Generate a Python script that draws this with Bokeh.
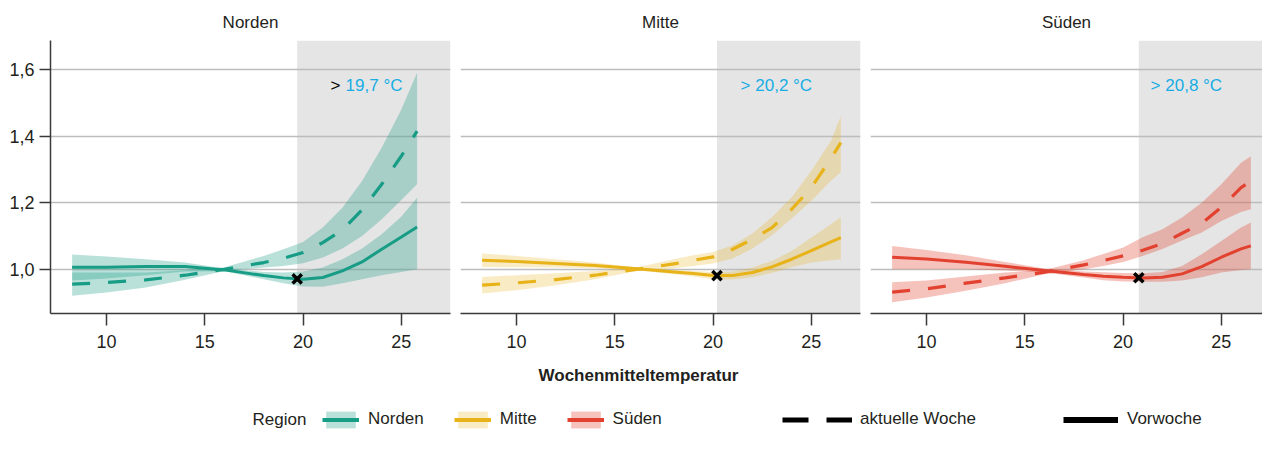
import numpy as np
from bokeh.plotting import figure
from bokeh.models import Range1d, BoxAnnotation, Label, Legend, LegendItem, FixedTicker
from bokeh.layouts import row, column
from bokeh.embed import file_html
from bokeh.resources import INLINE
from bokeh.core.properties import value

FONT = "Liberation Sans"
TXT = "#231f20"

# ---------------- data ----------------
regions = ["Norden", "Mitte", "Süden"]
thresholds = [19.7, 20.2, 20.8]
y_ticks = [1.0, 1.2, 1.4, 1.6]
y_tick_labels = ["1,0", "1,2", "1,4", "1,6"]
x_ticks = [10, 15, 20, 25]
x_tick_labels = ["10", "15", "20", "25"]
x_title = "Wochenmitteltemperatur"
legend_title = "Region"
label_current = "aktuelle Woche"
label_previous = "Vorwoche"

x_nord = [8.25, 10, 12, 14, 16, 18, 19, 20, 21, 22, 23, 24, 25, 25.8]
nord_prev = [1.006, 1.006, 1.008, 1.008, 0.998, 0.981, 0.974, 0.970, 0.975, 0.995, 1.022, 1.060, 1.097, 1.127]
nord_prev_lo = [0.966, 0.972, 0.982, 0.993, 0.994, 0.970, 0.958, 0.948, 0.947, 0.958, 0.970, 0.982, 0.992, 1.000]
nord_prev_hi = [1.044, 1.038, 1.030, 1.020, 1.002, 0.992, 0.990, 0.993, 1.005, 1.030, 1.062, 1.105, 1.158, 1.215]
nord_cur = [0.955, 0.960, 0.968, 0.982, 1.000, 1.020, 1.033, 1.050, 1.080, 1.118, 1.178, 1.255, 1.340, 1.415]
nord_cur_lo = [0.920, 0.930, 0.945, 0.968, 0.995, 1.005, 1.010, 1.018, 1.035, 1.062, 1.100, 1.150, 1.208, 1.255]
nord_cur_hi = [0.990, 0.990, 0.990, 0.997, 1.006, 1.040, 1.060, 1.082, 1.125, 1.185, 1.265, 1.365, 1.480, 1.590]

x_mitte = [8.25, 10, 12, 14, 16, 18, 19, 20, 21, 22, 23, 24, 25, 26, 26.5]
mitte_prev = [1.027, 1.023, 1.017, 1.011, 1.002, 0.992, 0.987, 0.981, 0.981, 0.990, 1.007, 1.030, 1.056, 1.082, 1.095]
mitte_prev_lo = [1.007, 1.006, 1.005, 1.003, 0.998, 0.985, 0.978, 0.970, 0.969, 0.976, 0.989, 1.006, 1.020, 1.027, 1.030]
mitte_prev_hi = [1.047, 1.040, 1.030, 1.020, 1.006, 0.998, 0.995, 0.992, 0.993, 1.005, 1.025, 1.055, 1.095, 1.135, 1.157]
mitte_cur = [0.952, 0.959, 0.969, 0.982, 0.999, 1.016, 1.027, 1.037, 1.060, 1.090, 1.125, 1.180, 1.245, 1.333, 1.380]
mitte_cur_lo = [0.927, 0.937, 0.952, 0.970, 0.994, 1.003, 1.010, 1.017, 1.032, 1.062, 1.102, 1.152, 1.206, 1.266, 1.291]
mitte_cur_hi = [0.977, 0.982, 0.988, 0.995, 1.004, 1.030, 1.042, 1.052, 1.072, 1.107, 1.157, 1.216, 1.296, 1.386, 1.460]

x_sued = [8.25, 10, 12, 14, 16, 18, 19, 20, 21, 22, 23, 24, 25, 26, 26.5]
sued_prev = [1.036, 1.031, 1.021, 1.009, 0.996, 0.984, 0.979, 0.976, 0.974, 0.976, 0.986, 1.008, 1.036, 1.061, 1.070]
sued_prev_lo = [1.000, 1.000, 1.000, 0.996, 0.990, 0.975, 0.967, 0.963, 0.962, 0.962, 0.966, 0.976, 0.990, 0.998, 1.000]
sued_prev_hi = [1.070, 1.058, 1.042, 1.022, 1.002, 0.993, 0.991, 0.989, 0.988, 0.992, 1.010, 1.045, 1.085, 1.125, 1.140]
sued_cur = [0.931, 0.941, 0.958, 0.974, 0.991, 1.013, 1.026, 1.040, 1.057, 1.077, 1.108, 1.138, 1.186, 1.245, 1.265]
sued_cur_lo = [0.901, 0.915, 0.935, 0.958, 0.985, 1.000, 1.010, 1.022, 1.040, 1.061, 1.086, 1.110, 1.145, 1.172, 1.180]
sued_cur_hi = [0.961, 0.966, 0.978, 0.990, 0.998, 1.027, 1.046, 1.065, 1.096, 1.120, 1.155, 1.200, 1.255, 1.320, 1.339]

series = [
    (x_nord, nord_prev, nord_prev_lo, nord_prev_hi, nord_cur, nord_cur_lo, nord_cur_hi),
    (x_mitte, mitte_prev, mitte_prev_lo, mitte_prev_hi, mitte_cur, mitte_cur_lo, mitte_cur_hi),
    (x_sued, sued_prev, sued_prev_lo, sued_prev_hi, sued_cur, sued_cur_lo, sued_cur_hi),
]

# ---------------- style ----------------
line_colors = ["#179c85", "#e8b219", "#e2412f"]
band_alpha = [0.30, 0.26, 0.32]
shade_color = "#e5e5e5"
note_color = "#17ade5"
grid_color = "#bdbdbd"
axis_color = "#3a3a3a"

X0 = 7.15
PXU = 400 / (27.5 - 7.15)
Y0, Y1 = 0.867, 1.687
DASH = "18 18"

widths = [455, 410, 397]
frame_w = [400, 400, 392]
mb_left = [50, 5, 5]
mb_right = [5, 5, 0]

panels = []
for i, reg in enumerate(regions):
    xs, prev, prev_lo, prev_hi, cur, cur_lo, cur_hi = series[i]
    c = line_colors[i]
    thr = thresholds[i]
    p = figure(width=widths[i], height=355,
               x_range=Range1d(X0, X0 + frame_w[i] / PXU),
               y_range=Range1d(Y0, Y1),
               output_backend="svg", toolbar_location=None,
               min_border_left=mb_left[i], min_border_right=mb_right[i],
               min_border_top=40, min_border_bottom=42, title=reg)
    p.outline_line_color = None
    p.title.align = "center"
    p.title.text_font = FONT
    p.title.text_font_size = "17px"
    p.title.text_font_style = "normal"
    p.title.text_color = TXT
    p.title.standoff = 17

    p.xgrid.visible = False
    p.ygrid.ticker = FixedTicker(ticks=y_ticks)
    p.ygrid.grid_line_color = grid_color
    p.ygrid.grid_line_width = 1.5

    ax = p.xaxis[0]
    ax.ticker = FixedTicker(ticks=x_ticks)
    ax.major_label_overrides = dict(zip(x_ticks, x_tick_labels))
    ax.axis_line_color = axis_color
    ax.axis_line_width = 1.5
    ax.major_tick_line_color = axis_color
    ax.major_tick_line_width = 1.5
    ax.major_tick_out = 12
    ax.major_tick_in = 0
    ax.minor_tick_line_color = None
    ax.major_label_standoff = 9
    ax.major_label_text_font = FONT
    ax.major_label_text_font_size = "18px"
    ax.major_label_text_color = TXT

    ay = p.yaxis[0]
    if i == 0:
        ay.ticker = FixedTicker(ticks=y_ticks)
        ay.major_label_overrides = dict(zip(y_ticks, y_tick_labels))
        ay.axis_line_color = axis_color
        ay.axis_line_width = 1.5
        ay.major_tick_line_color = axis_color
        ay.major_tick_line_width = 1.5
        ay.major_tick_out = 11
        ay.major_tick_in = 0
        ay.minor_tick_line_color = None
        ay.major_label_standoff = 5
        ay.major_label_text_font = FONT
        ay.major_label_text_font_size = "18px"
        ay.major_label_text_color = TXT
    else:
        ay.visible = False

    p.add_layout(BoxAnnotation(left=thr, fill_color=shade_color, fill_alpha=1,
                               line_alpha=0, level="image"))

    p.varea(x=xs, y1=prev_lo, y2=prev_hi, fill_color=c, fill_alpha=band_alpha[i])
    p.varea(x=xs, y1=cur_lo, y2=cur_hi, fill_color=c, fill_alpha=band_alpha[i])
    p.line(xs, prev, line_color=c, line_width=3)
    p.line(xs, cur, line_color=c, line_width=3.2, line_dash=DASH)
    p.scatter([thr], [float(np.interp(thr, xs, prev))], marker="x", size=13,
              line_width=3.5, line_color="black")

    thr_txt = f"{thr:.1f}".replace(".", ",") + " °C"
    if i == 0:
        p.text(x=[21.4], y=[1.552], text=[">"], text_font=value(FONT),
               text_font_size="17px", text_color="black",
               text_align="left", text_baseline="middle")
        p.text(x=[21.4], y=[1.552], text=[thr_txt], x_offset=15, text_font=value(FONT),
               text_font_size="17px", text_color=note_color,
               text_align="left", text_baseline="middle")
    else:
        p.text(x=[21.4], y=[1.552], text=["> " + thr_txt], text_font=value(FONT),
               text_font_size="17px", text_color=note_color,
               text_align="left", text_baseline="middle")
    panels.append(p)

# ---------------- bottom: axis title + legend ----------------
BH = 96
pb = figure(width=1262, height=BH, x_range=Range1d(0, 1262), y_range=Range1d(0, BH),
            output_backend="svg", toolbar_location=None,
            x_axis_type=None, y_axis_type=None,
            min_border_left=0, min_border_right=0, min_border_top=0, min_border_bottom=0)
pb.outline_line_color = None

# page y of bottom figure top = 355
pb.add_layout(Label(x=638, y=BH - (375 - 355), text=x_title, text_align="center",
                    text_baseline="middle", text_font=FONT, text_font_size="17px",
                    text_font_style="bold", text_color=TXT))
pb.add_layout(Label(x=252, y=BH - (419 - 355), text=legend_title, text_align="left",
                    text_baseline="middle", text_font=FONT, text_font_size="17px",
                    text_color=TXT))

OFF = [-100, -99]
items = []
for i, reg in enumerate(regions):
    b = pb.varea(x=OFF, y1=[-100, -100], y2=[-99, -99], fill_color=line_colors[i],
                 fill_alpha=band_alpha[i])
    l = pb.line(x=OFF, y=[-100, -100], line_color=line_colors[i], line_width=4)
    items.append(LegendItem(label=reg, renderers=[b, l]))

GH = 21
leg_y = BH - (419 - 355) - GH / 2
common = dict(orientation="horizontal", padding=0, margin=0, border_line_color=None,
              background_fill_alpha=0, label_text_font=FONT, label_text_font_size="17px",
              label_text_color=TXT, glyph_height=GH)

leg1 = Legend(items=items, location=(322, leg_y), glyph_width=37, label_standoff=9,
              spacing=30, **common)
pb.add_layout(leg1)

ld = pb.line(x=OFF, y=[-100, -100], line_color="black", line_width=5, line_dash="26 18")
leg2 = Legend(items=[LegendItem(label=label_current, renderers=[ld])], location=(782, leg_y),
              glyph_width=70, label_standoff=8, **common)
pb.add_layout(leg2)

ls = pb.line(x=OFF, y=[-100, -100], line_color="black", line_width=6)
leg3 = Legend(items=[LegendItem(label=label_previous, renderers=[ls])], location=(1063, leg_y),
              glyph_width=55, label_standoff=9, **common)
pb.add_layout(leg3)

layout = column(row(*panels), pb)
open("out.html", "w").write(file_html(layout, INLINE))
